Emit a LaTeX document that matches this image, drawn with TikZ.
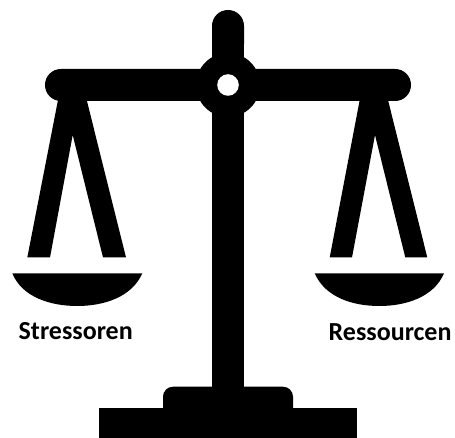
\documentclass[tikz,border=0pt]{standalone}
\usepackage{fontspec}
\setmainfont{Carlito}
\usepackage{xcolor}
\usepackage{tikz}
\tikzset{
  part/.style={fill=black, draw=none},
  sidelabel/.style={font=\fontsize{26}{30}\selectfont\bfseries, inner sep=0pt, anchor=base west, color=black}
}
\begin{document}
\begin{tikzpicture}[x=1pt, y=-1pt]
  \useasboundingbox (0, 0) rectangle (455, 438);

  % post, beam and hub
  \fill[part, rounded corners=15.9pt] (212, 10) rectangle (244, 60);
  \fill[part] (212, 26) rectangle (244, 400);
  \fill[part, rounded corners=15.9pt] (45, 69) rectangle (411, 101);
  \fill[part] (228, 85) circle (32);
  \fill[white] (228, 85) circle (10.8);

  % left hanger and pan
  \fill[part] (58, 100) -- (27.3, 257.5) -- (50, 257.5) -- (72.7, 135) -- (103, 257.5) -- (126, 257.5) -- (86.7, 100) -- cycle;
  \fill[part] (12.3, 273.3) -- (142.3, 273.3) .. controls (132, 297) and (104, 306) .. (77.3, 306) .. controls (50, 306) and (22, 297) .. (12.3, 273.3) -- cycle;

  % right hanger and pan
  \fill[part] (359.7, 100) -- (329.7, 257.5) -- (352, 257.5) -- (375, 135) -- (405.3, 257.5) -- (427.3, 257.5) -- (388, 100) -- cycle;
  \fill[part] (314.7, 273.3) -- (444, 273.3) .. controls (434, 297) and (406, 306) .. (379.4, 306) .. controls (352, 306) and (325, 297) .. (314.7, 273.3) -- cycle;

  % base
  \fill[part] (163, 408.6) -- (163, 396.7) [rounded corners=10pt] -- (163, 386.7) -- (293, 386.7) [sharp corners] -- (293, 408.6) -- cycle;
  \fill[part] (99, 408.3) rectangle (357.3, 438);

  \node[sidelabel] (stressoren) at (18.5, 339) {Stressoren};
  \node[sidelabel] (ressourcen) at (328.5, 340.7) {Ressourcen};
\end{tikzpicture}
\end{document}
